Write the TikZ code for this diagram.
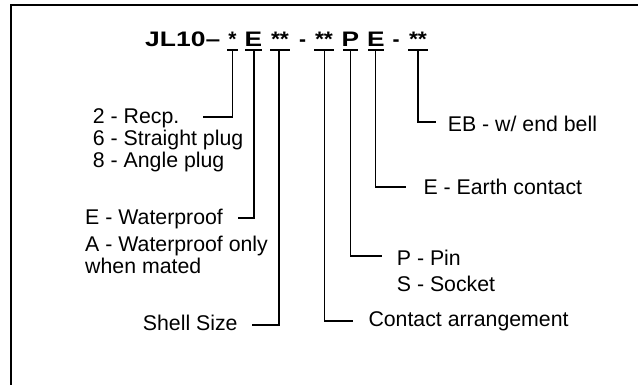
\documentclass[tikz,border=0pt]{standalone}
\usepackage{fontspec}
\setmainfont{Liberation Sans}
\usepackage{graphicx}
\begin{document}
\begin{tikzpicture}[x=1pt,y=-1pt,
  lbl/.style={anchor=base west, inner sep=0pt, font=\fontsize{21.3}{24}\selectfont},
  ttl/.style={anchor=base, inner sep=0pt, font=\fontsize{21}{24}\selectfont\bfseries},
  uline/.style={line width=2pt},
  conn/.style={line width=1.4pt}]
\useasboundingbox (0,0) rectangle (638,384);
\clip (0,0) rectangle (638,384);
\draw[line width=2pt] (11,5) rectangle (700,450);
% title
\node[ttl, anchor=base west] (jl) at (145,46.3) {\scalebox{1.26}[1]{JL10–}};
\node[ttl] (s1) at (232.5,46.3) {*};
\node[ttl] (s2) at (253.5,46.3) {\scalebox{1.25}[1]{E}};
\node[ttl] (s3) at (280,46.3) {\scalebox{1.1}[1]{**}};
\node[ttl] (d1) at (302.5,46.3) {-};
\node[ttl] (s4) at (324,46.3) {\scalebox{1.1}[1]{**}};
\node[ttl] (s5) at (350.5,46.3) {\scalebox{1.25}[1]{P}};
\node[ttl] (s6) at (376,46.3) {\scalebox{1.25}[1]{E}};
\node[ttl] (d2) at (396,46.3) {-};
\node[ttl] (s7) at (418,46.3) {\scalebox{1.1}[1]{**}};
% underlines
\draw[uline] (227,50) -- (238,50);
\draw[uline] (245,50) -- (262,50);
\draw[uline] (270,50) -- (290,50);
\draw[uline] (314,50) -- (334,50);
\draw[uline] (343,50) -- (358,50);
\draw[uline] (368,50) -- (384,50);
\draw[uline] (408,50) -- (428,50);
% labels
\node[lbl] (l1a) at (92.7,123.3) {2 - Recp.};
\node[lbl] (l1b) at (92.7,145.5) {6 - Straight plug};
\node[lbl] (l1c) at (92.7,167.3) {8 - Angle plug};
\node[lbl] (l2a) at (85,224.3) {E - Waterproof};
\node[lbl] (l2b) at (85,251) {A - Waterproof only};
\node[lbl] (l2c) at (85,273) {when mated};
\node[lbl] (l3) at (142.7,330.7) {Shell Size};
\node[lbl] (l4) at (368.3,326.7) {Contact arrangement};
\node[lbl] (l5a) at (396.7,265) {P - Pin};
\node[lbl] (l5b) at (396.7,291.7) {S - Socket};
\node[lbl] (l6) at (423.3,194) {E - Earth contact};
\node[lbl] (l7) at (447.7,131) {EB - w/ end bell};
% connectors
\coordinate (u1) at (232.5,50); \coordinate (e1) at (203,117);
\coordinate (u2) at (254,50);   \coordinate (e2) at (238,218);
\coordinate (u3) at (279,50);   \coordinate (e3) at (252,325);
\coordinate (u4) at (324.5,50); \coordinate (e4) at (353,321);
\coordinate (u5) at (350.5,50); \coordinate (e5) at (382,256);
\coordinate (u6) at (375.5,50); \coordinate (e6) at (406,187);
\coordinate (u7) at (418,50);   \coordinate (e7) at (436,122);
\draw[conn] (u1) |- (e1);
\draw[conn] (u2) |- (e2);
\draw[conn] (u3) |- (e3);
\draw[conn] (u4) |- (e4);
\draw[conn] (u5) |- (e5);
\draw[conn] (u6) |- (e6);
\draw[conn] (u7) |- (e7);
\end{tikzpicture}
\end{document}
